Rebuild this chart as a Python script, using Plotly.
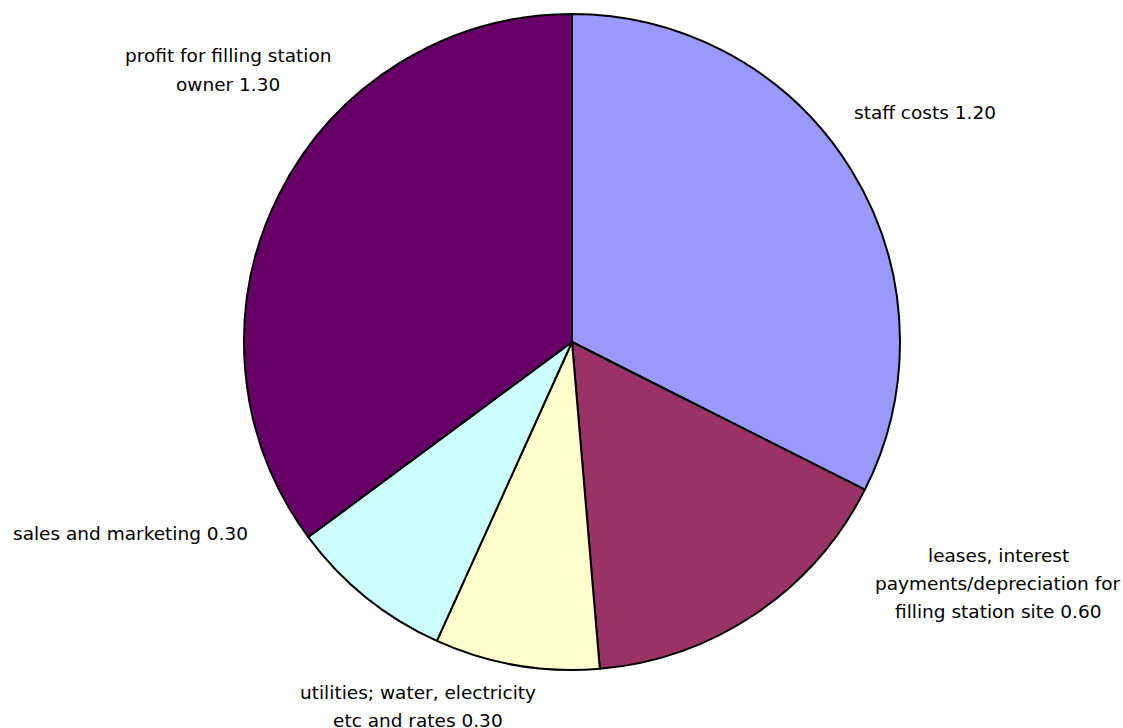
import plotly.graph_objects as go

# Cost breakdown per litre at the filling station
categories = [
    "staff costs",
    "leases, interest|payments/depreciation for|filling station site",
    "utilities; water, electricity|etc and rates",
    "sales and marketing",
    "profit for filling station|owner",
]
values = [1.20, 0.60, 0.30, 0.30, 1.30]
colors = ["#9999FF", "#993366", "#FFFFCC", "#CCFFFF", "#660066"]

# label anchor (centre of first text line) in pixels, for a 1123x728 page
label_pos = [(925, 112), (998, 555), (418, 692), (130, 533), (228, 56)]

W, H = 1123, 728
LINE = 28
FONT = dict(family="DejaVu Sans, sans-serif", size=18.5, color="#000000")

fig = go.Figure(
    go.Pie(
        labels=[c.replace("|", " ") for c in categories],
        values=values,
        sort=False,
        direction="clockwise",
        rotation=0,
        marker=dict(colors=colors, line=dict(color="#000000", width=2)),
        textinfo="none",
        hovertemplate="%{label}: %{value:.2f}<extra></extra>",
        domain=dict(x=[21 / W, 1], y=[1 - 670 / H, 1 - 14 / H]),
        showlegend=False,
    )
)

annotations = []
for cat, val, (px, py) in zip(categories, values, label_pos):
    lines = cat.split("|")
    lines[-1] = f"{lines[-1]} {val:.2f}"
    for i, line in enumerate(lines):
        annotations.append(
            dict(
                x=px / W,
                y=1 - (py + i * LINE) / H,
                xref="paper",
                yref="paper",
                text=line,
                showarrow=False,
                xanchor="center",
                yanchor="middle",
                font=FONT,
            )
        )

fig.update_layout(
    width=W,
    height=H,
    margin=dict(l=0, r=0, t=0, b=0),
    paper_bgcolor="#FFFFFF",
    plot_bgcolor="#FFFFFF",
    annotations=annotations,
)

fig.write_html("out.html")
